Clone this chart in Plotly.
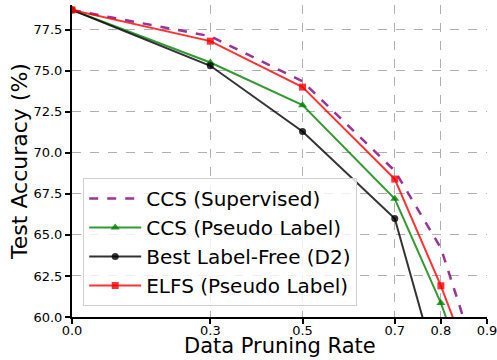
import plotly.graph_objects as go

rates = [0.0, 0.3, 0.5, 0.7, 0.8, 0.9]
ccs_supervised = [78.7, 77.1, 74.35, 68.9, 64.2, 55.5]
ccs_pseudo = [78.7, 75.5, 72.9, 67.2, 60.85, 53.0]
best_label_free = [78.7, 75.3, 71.3, 66.0, 56.0, 50.0]
elfs_pseudo = [78.7, 76.8, 74.0, 68.4, 61.9, 54.5]

x_ticks = [0.0, 0.3, 0.5, 0.7, 0.8, 0.9]
x_tick_labels = ["0.0", "0.3", "0.5", "0.7", "0.8", "0.9"]
y_ticks = [60.0, 62.5, 65.0, 67.5, 70.0, 72.5, 75.0, 77.5]
y_tick_labels = ["60.0", "62.5", "65.0", "67.5", "70.0", "72.5", "75.0", "77.5"]

FONT = "DejaVu Sans"

fig = go.Figure()
fig.add_trace(go.Scatter(x=rates, y=ccs_supervised, name="CCS (Supervised)", mode="lines",
                         line=dict(color="rgba(128,0,128,0.8)", width=2.5, dash="dash")))
fig.add_trace(go.Scatter(x=rates, y=ccs_pseudo, name="CCS (Pseudo Label)", mode="lines+markers",
                         line=dict(color="rgba(0,128,0,0.8)", width=2),
                         marker=dict(symbol="triangle-up", size=8, color="rgba(0,128,0,0.8)")))
fig.add_trace(go.Scatter(x=rates, y=best_label_free, name="Best Label-Free (D2)", mode="lines+markers",
                         line=dict(color="rgba(0,0,0,0.8)", width=2),
                         marker=dict(symbol="circle", size=7, color="rgba(0,0,0,0.8)")))
fig.add_trace(go.Scatter(x=rates, y=elfs_pseudo, name="ELFS (Pseudo Label)", mode="lines+markers",
                         line=dict(color="rgba(255,0,0,0.8)", width=2),
                         marker=dict(symbol="square", size=7, color="rgba(255,0,0,0.8)")))

for tr in fig.data:
    tr.cliponaxis = True

fig.update_layout(
    width=497, height=360,
    margin=dict(l=72, r=10, t=5, b=43, autoexpand=False),
    paper_bgcolor="white", plot_bgcolor="white",
    font=dict(family=FONT, color="black"),
    legend=dict(x=0.027, y=0.035, xanchor="left", yanchor="bottom",
                font=dict(size=20, family=FONT),
                bgcolor="rgba(255,255,255,0.8)", bordercolor="#d0d0d0", borderwidth=1,
                tracegroupgap=0, itemwidth=52),
)
fig.add_annotation(text="Data Pruning Rate", xref="paper", yref="paper", x=0.5, y=0,
                   xanchor="center", yanchor="top", yshift=-15, showarrow=False,
                   font=dict(size=21, family=FONT, color="black"))
fig.update_xaxes(range=[0, 0.9], tickmode="array", tickvals=x_ticks, ticktext=x_tick_labels,
                 showgrid=True, gridcolor="#b0b0b0", griddash="dash", gridwidth=1,
                 showline=True, linecolor="black", linewidth=2, mirror=False,
                 ticks="outside", ticklen=5, tickwidth=1.5, tickcolor="black",
                 tickfont=dict(size=13, family=FONT), automargin=False,
                 ticklabelstandoff=-5, ticklabeloverflow="allow",
                 zeroline=False)
fig.update_yaxes(range=[60, 79], tickmode="array", tickvals=y_ticks, ticktext=y_tick_labels,
                 showgrid=True, gridcolor="#b0b0b0", griddash="dash", gridwidth=1,
                 showline=True, linecolor="black", linewidth=2, mirror=False,
                 ticks="outside", ticklen=5, tickwidth=1.5, tickcolor="black",
                 tickfont=dict(size=13, family=FONT), automargin=False,
                 title=dict(text="Test Accuracy (%)", font=dict(size=22, family=FONT), standoff=0),
                 zeroline=False)

fig.write_html("out.html")
